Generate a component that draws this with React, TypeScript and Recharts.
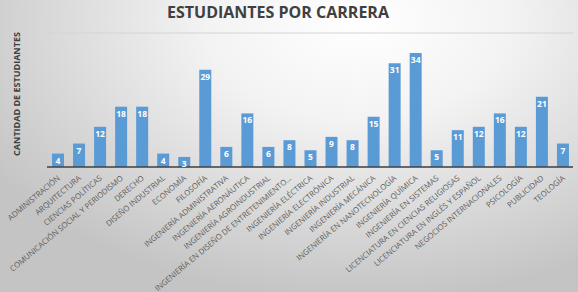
import { Bar, BarChart, CartesianGrid, Label, LabelList, XAxis, YAxis } from "recharts";

const careers = [
  "ADMINISTRACIÓN",
  "ARQUITECTURA",
  "CIENCIAS POLÍTICAS",
  "COMUNICACIÓN SOCIAL Y PERIODISMO",
  "DERECHO",
  "DISEÑO INDUSTRIAL",
  "ECONOMÍA",
  "FILOSOFÍA",
  "INGENIERÍA ADMINISTRATIVA",
  "INGENIERÍA AERONÁUTICA",
  "INGENIERÍA AGROINDUSTRIAL",
  "INGENIERÍA EN DISEÑO DE ENTRETENIMIENTO…",
  "INGENIERÍA ELÉCTRICA",
  "INGENIERÍA ELECTRÓNICA",
  "INGENIERÍA INDUSTRIAL",
  "INGENIERÍA MECÁNICA",
  "INGENIERÍA EN NANOTECNOLOGÍA",
  "INGENIERÍA QUÍMICA",
  "INGENIERÍA EN SISTEMAS",
  "LICENCIATURA EN CIENCIAS RELIGIOSAS",
  "LICENCIATURA EN INGLÉS Y ESPAÑOL",
  "NEGOCIOS INTERNACIONALES",
  "PSICOLOGÍA",
  "PUBLICIDAD",
  "TEOLOGÍA",
];

const students = [4, 7, 12, 18, 18, 4, 3, 29, 6, 16, 6, 8, 5, 9, 8, 15, 31, 34, 5, 11, 12, 16, 12, 21, 7];

const yTicks = [0, 5, 10, 15, 20, 25, 30, 35, 40];

const data = careers.map((name, i) => ({ name, students: students[i] }));

const font = "'Open Sans', 'DejaVu Sans', sans-serif";

function CareerTick(props: any) {
  const { x, y, payload } = props;
  return (
    <text
      x={x + 3}
      y={y + 4}
      transform={`rotate(-40 ${x + 3} ${y + 4})`}
      textAnchor="end"
      fontSize={7.8}
      fontFamily={font}
      fill="#595959"
    >
      {payload.value}
    </text>
  );
}

export default function App() {
  return (
    <div
      style={{
        position: "absolute",
        left: 0,
        top: 0,
        width: 578,
        height: 292,
        background:
          "radial-gradient(ellipse 75% 95% at 62% 8%, #ffffff 0%, #f3f3f3 35%, #d6d6d6 75%, #c4c4c4 100%)",
        fontFamily: font,
      }}
    >
      <div
        style={{
          position: "absolute",
          left: 0,
          width: 556,
          top: 1,
          textAlign: "center",
          fontSize: 16,
          fontWeight: 700,
          color: "#404040",
        }}
      >
        ESTUDIANTES POR CARRERA
      </div>
      <BarChart
        width={578}
        height={292}
        data={data}
        margin={{ top: 33, right: 5, bottom: 0, left: 0 }}
        barSize={12}
        style={{ position: "absolute", left: 0, top: 0 }}
      >
        <CartesianGrid vertical={false} stroke="#d4d4d4" />
        <XAxis
          dataKey="name"
          interval={0}
          height={125}
          tick={<CareerTick />}
          tickLine={false}
          axisLine={{ stroke: "#404040", strokeWidth: 1.5 }}
        />
        <YAxis
          width={47}
          domain={[0, 40]}
          ticks={yTicks}
          tick={false}
          tickLine={false}
          axisLine={false}
        >
          <Label
            content={() => (
              <text
                transform="translate(20 94) rotate(-90)"
                textAnchor="middle"
                fontSize={9}
                fontWeight={700}
                fontFamily={font}
                fill="#404040"
              >
                CANTIDAD DE ESTUDIANTES
              </text>
            )}
          />
        </YAxis>
        <Bar dataKey="students" fill="#5b9bd5" barSize={12} isAnimationActive={false}>
          <LabelList
            dataKey="students"
            position="insideTop"
            offset={4}
            fill="#ffffff"
            fontSize={8.5}
            fontWeight={700}
            fontFamily={font}
          />
        </Bar>
      </BarChart>
    </div>
  );
}
